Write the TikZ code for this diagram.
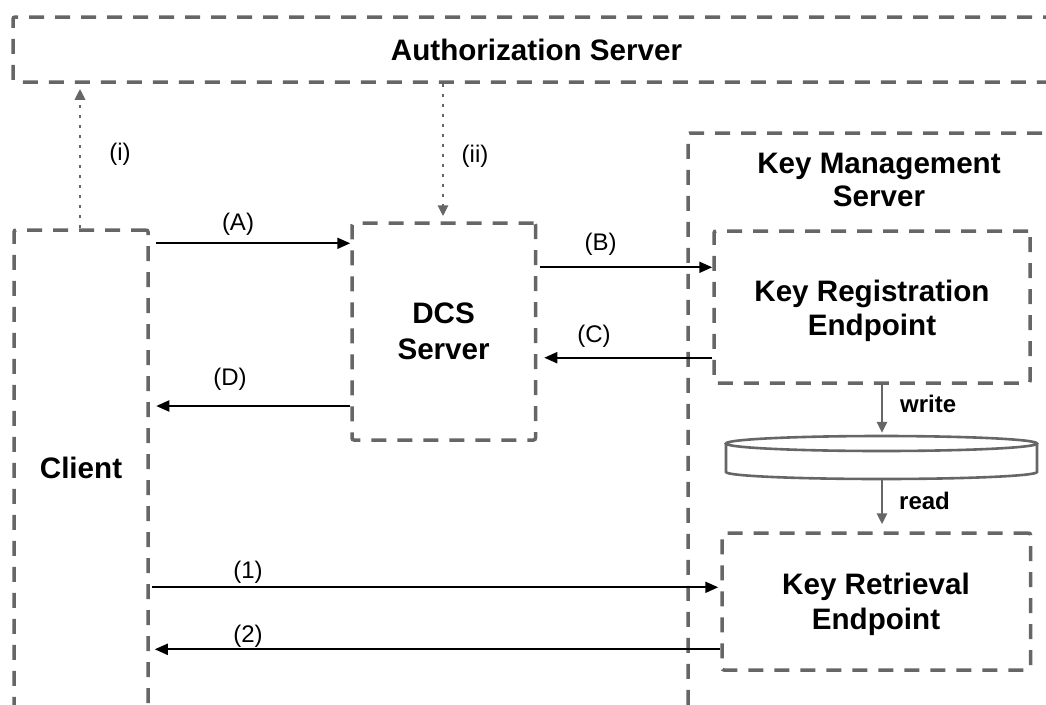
\documentclass[tikz,border=0pt]{standalone}
\usepackage{fontspec}
\setmainfont{Liberation Sans}
\usetikzlibrary{arrows.meta,calc}
\definecolor{boxgray}{HTML}{666666}
\begin{document}
\begin{tikzpicture}[x=1pt,y=-1pt,
  dbox/.style={draw=boxgray, line width=3.5pt, dash pattern=on 15pt off 11pt, rounded corners=2pt, inner sep=0pt},
  titletext/.style={font=\fontsize{29.6}{34}\selectfont\bfseries, align=center, inner sep=0pt},
  lbl/.style={font=\fontsize{24}{28}\selectfont, inner sep=0pt},
  rwlbl/.style={font=\fontsize{24}{28}\selectfont\bfseries, inner sep=0pt, anchor=base west},
  msg/.style={draw=black, line width=2pt, -{Triangle[length=13pt,width=11pt]}},
  dotarr/.style={draw=boxgray, line width=2.8pt, dash pattern=on 2.8pt off 7.2pt, -{Triangle[length=11pt,width=10pt]}},
  rwarr/.style={draw=boxgray, line width=2.6pt, -{Triangle[length=11pt,width=10pt]}},
  dbline/.style={draw=boxgray, line width=2.6pt}
]
\useasboundingbox (0,0) rectangle (1046,704);
\clip (0,0) rectangle (1046,704);

% boxes
\node[dbox, minimum width=1047pt, minimum height=65pt] (auth) at (536.5,49.5) {};
\node[dbox, minimum width=134pt, minimum height=482pt] (client) at (81,471) {};
\node[dbox, minimum width=382pt, minimum height=607pt] (kms) at (879,436.5) {};
\node[dbox, minimum width=183.5pt, minimum height=217pt] (dcs) at (443.75,331.5) {};
\node[dbox, minimum width=316pt, minimum height=152pt] (keyreg) at (872,307) {};
\node[dbox, minimum width=308.5pt, minimum height=137pt] (keyret) at (876.25,601.5) {};
\node[minimum width=311pt, minimum height=43pt, inner sep=0pt] (db) at (881.5,457.5) {};

% database cylinder
\draw[dbline, fill=white] (726,443.5) -- (726,472)
  .. controls (726,475.87) and (795.6,479) .. (881.5,479)
  .. controls (967.4,479) and (1037,475.87) .. (1037,472) -- (1037,443.5);
\draw[dbline, fill=white] (881.5,443.5) ellipse [x radius=155.5, y radius=7.5];

% box texts
\node[titletext] (authtext) at (536.5,50) {Authorization Server};
\node[titletext, font=\fontsize{29.6}{32.5}\selectfont\bfseries] (kmstext) at (879,180) {Key Management\\Server};
\node[titletext] (keyregtext) at (872,310.6) {Key Registration\\Endpoint};
\node[titletext, font=\fontsize{29.6}{35}\selectfont\bfseries] (keyrettext) at (876,604.5) {Key Retrieval\\Endpoint};
\node[titletext, font=\fontsize{29.6}{36.5}\selectfont\bfseries] (dcstext) at (443.6,331.5) {DCS\\Server};
\node[titletext] (clienttext) at (81,468) {Client};

% helper coordinates
\coordinate (xi) at (80,0);
\coordinate (xii) at (443,0);
\coordinate (xw) at (882,0);
\coordinate (yA) at (0,243.3);
\coordinate (yB) at (0,267.3);
\coordinate (yC) at (0,357.7);
\coordinate (yD) at (0,406);
\coordinate (y1) at (0,587.3);
\coordinate (y2) at (0,649.3);

% dotted arrows
\draw[dotarr, shorten >=5pt] (client.north -| xi) -- (auth.south -| xi);
\draw[dotarr, shorten >=5pt] (auth.south -| xii) -- (dcs.north -| xii);

% message arrows
\draw[msg, shorten <=6.5pt] (client.east |- yA) -- (dcs.west |- yA);
\draw[msg, shorten <=2.5pt] (dcs.east |- yB) -- (keyreg.west |- yB);
\draw[msg, shorten >=7pt] (keyreg.west |- yC) -- (dcs.east |- yC);
\draw[msg, shorten >=6.5pt] (dcs.west |- yD) -- (client.east |- yD);
\draw[msg, shorten <=2pt, shorten >=2pt] (client.east |- y1) -- (keyret.west |- y1);
\draw[msg, shorten >=5pt] (keyret.west |- y2) -- (client.east |- y2);

% write / read
\draw[rwarr, shorten >=3pt] (keyreg.south -| xw) -- (db.north -| xw);
\draw[rwarr, shorten >=7pt] (db.south -| xw) -- (keyret.north -| xw);

% labels
\node[lbl] (li) at (120,154) {(i)};
\node[lbl] (lii) at (475,156.7) {(ii)};
\node[lbl] (lA) at (238,224) {(A)};
\node[lbl] (lB) at (600.5,244) {(B)};
\node[lbl] (lC) at (594,336) {(C)};
\node[lbl] (lD) at (230,379) {(D)};
\node[lbl] (l1) at (248,572) {(1)};
\node[lbl] (l2) at (248,636) {(2)};
\node[rwlbl] (lw) at (900,412) {write};
\node[rwlbl] (lr) at (899,509) {read};
\end{tikzpicture}
\end{document}
